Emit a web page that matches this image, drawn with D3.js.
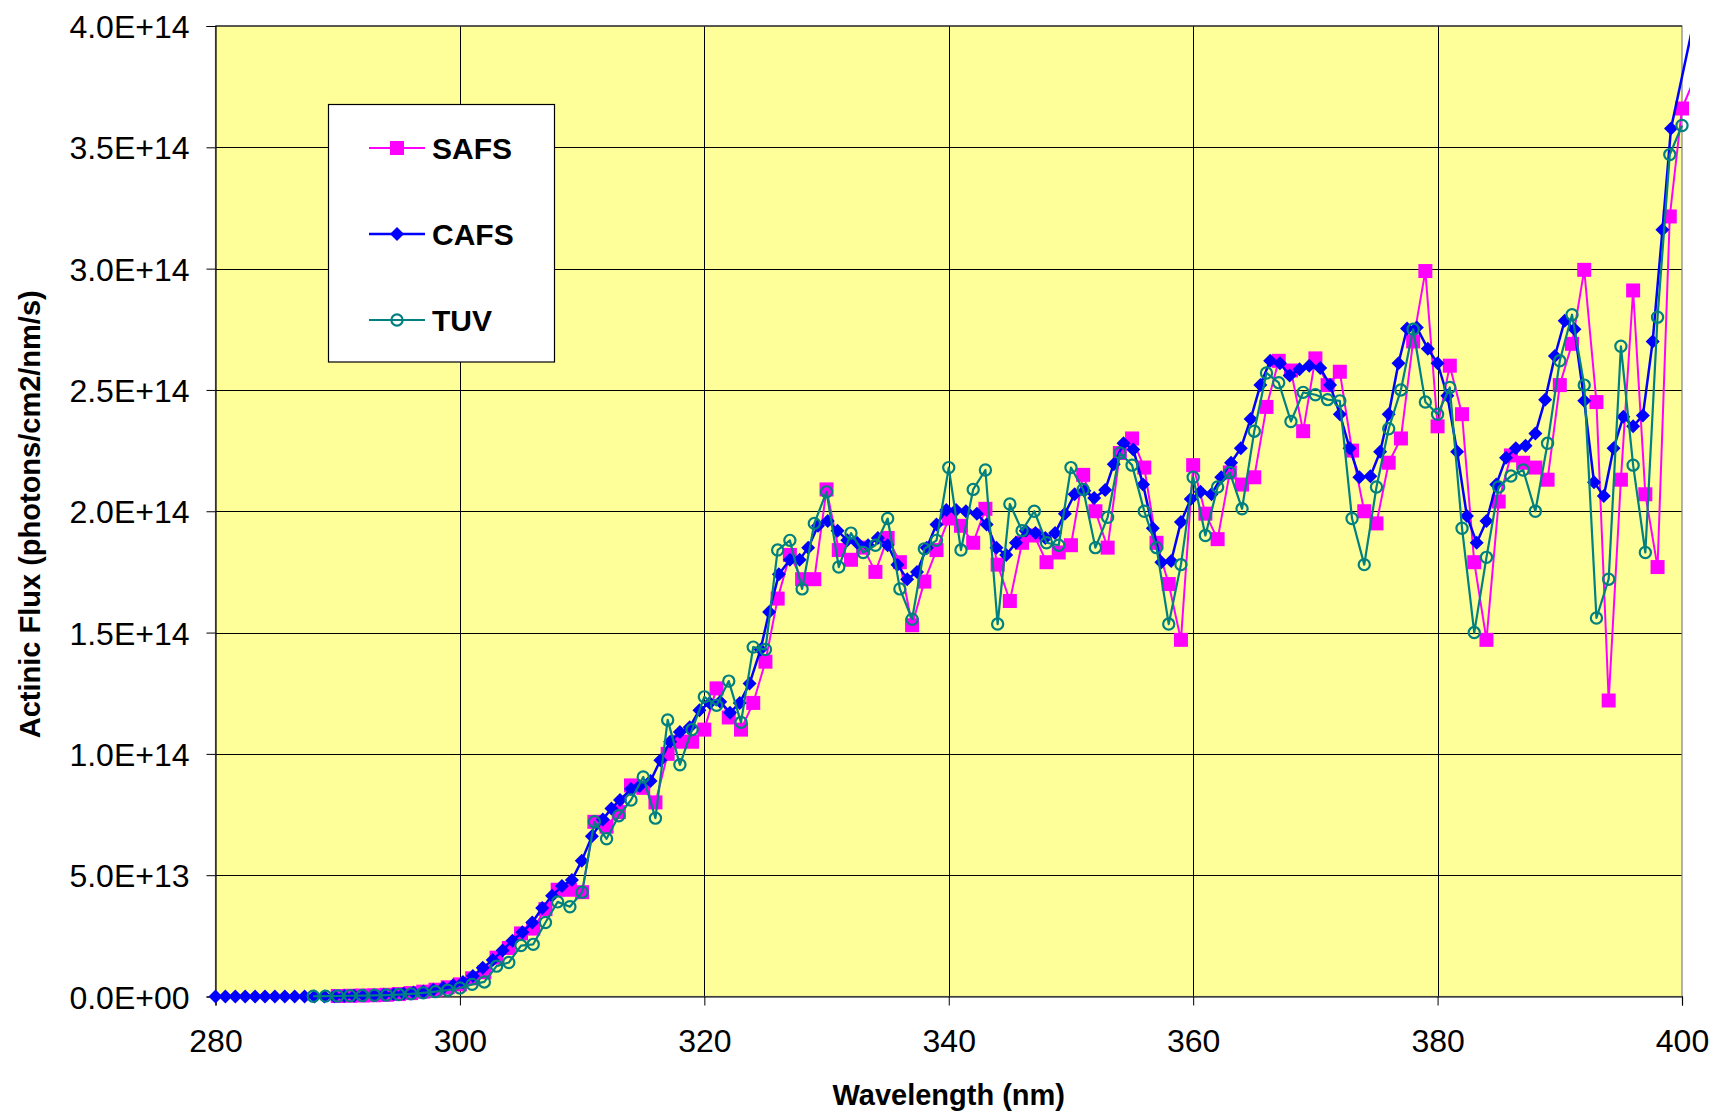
<!DOCTYPE html>
<html>
<head>
<meta charset="utf-8">
<script src="https://cdn.jsdelivr.net/npm/d3@7"></script>
<style>
  html, body { margin: 0; padding: 0; background: #ffffff; }
  svg { display: block; font-family: Arial, "Liberation Sans", sans-serif; }
</style>
</head>
<body>
<svg id="chart" width="1715" height="1120"></svg>
<script>
// ---------------- DATA (flux in units of 1E+14 photons/cm2/nm/s) ----------------
const seriesNames = ["SAFS", "CAFS", "TUV"];

// SAFS: 1 nm grid starting at 290 nm
const safsStart = 290;
const safsValues = [
  0.002, 0.003, 0.004, 0.005, 0.007, 0.010, 0.014, 0.020, 0.028, 0.038,
  0.050, 0.075, 0.100, 0.160, 0.200, 0.260, 0.280, 0.360, 0.440, 0.440, 0.430,
  0.72, 0.70, 0.76, 0.87, 0.86, 0.80, 1.00, 1.05, 1.05, 1.10,
  1.27, 1.15, 1.10, 1.21, 1.38, 1.64, 1.82, 1.72, 1.72, 2.09,
  1.84, 1.80, 1.85, 1.75, 1.89, 1.79, 1.53, 1.71, 1.84, 1.97,
  1.94, 1.87, 2.01, 1.78, 1.63, 1.87, 1.90, 1.79, 1.83, 1.86,
  2.15, 2.00, 1.85, 2.24, 2.30, 2.18, 1.87, 1.70, 1.47, 2.19,
  1.99, 1.885, 2.16, 2.11, 2.14, 2.43, 2.62, 2.58, 2.33, 2.63,
  2.52, 2.575, 2.25, 2.00, 1.95, 2.20, 2.30, 2.70, 2.99, 2.35,
  2.60, 2.40, 1.79, 1.47, 2.04, 2.23, 2.20, 2.18, 2.13, 2.52,
  2.69, 2.995, 2.45, 1.22, 2.13, 2.91, 2.07, 1.77, 3.215, 3.66, 3.78
];

// TUV: 1 nm grid starting at 288 nm
const tuvStart = 288;
const tuvValues = [
  0.001, 0.0015, 0.002, 0.003, 0.004, 0.005, 0.006, 0.008, 0.011, 0.015,
  0.020, 0.026, 0.035, 0.050, 0.060, 0.125, 0.140, 0.210, 0.215, 0.305, 0.390, 0.370, 0.430,
  0.72, 0.65, 0.745, 0.81, 0.905, 0.735, 1.14, 0.955, 1.10, 1.235,
  1.20, 1.30, 1.13, 1.44, 1.43, 1.84, 1.88, 1.68, 1.95, 2.08,
  1.77, 1.91, 1.83, 1.86, 1.97, 1.68, 1.555, 1.845, 1.88, 2.18,
  1.84, 2.09, 2.17, 1.535, 2.03, 1.92, 2.00, 1.87, 1.86, 2.18,
  2.09, 1.85, 1.975, 2.24, 2.19, 2.00, 1.85, 1.535, 1.78, 2.14,
  1.90, 2.10, 2.16, 2.01, 2.33, 2.57, 2.53, 2.37, 2.49, 2.48,
  2.46, 2.455, 1.97, 1.78, 2.10, 2.34, 2.50, 2.75, 2.45, 2.40,
  2.51, 1.93, 1.50, 1.81, 2.10, 2.145, 2.17, 2.00, 2.28, 2.62,
  2.81, 2.52, 1.56, 1.72, 2.68, 2.19, 1.83, 2.80, 3.47, 3.59
];

// CAFS: instrument wavelength grid (~0.8 nm spacing)
const cafsWavelengths = [
  280.00, 280.81, 281.62, 282.43, 283.24, 284.05, 284.86, 285.67, 286.48, 287.29,
  288.10, 288.91, 289.72, 290.53, 291.34, 292.15, 292.96, 293.77, 294.58, 295.39,
  296.20, 297.01, 297.82, 298.63, 299.44, 300.25, 301.06, 301.87, 302.68, 303.49,
  304.30, 305.11, 305.92, 306.73, 307.54, 308.35, 309.16, 309.97, 310.8, 311.7,
  312.4, 313.1, 314.0, 314.7, 315.6, 316.4, 317.2, 318.0, 318.8, 319.6,
  320.45, 321.3, 322.1, 322.9, 323.7, 324.6, 325.3, 326.1, 327.0, 327.8,
  328.5, 329.3, 330.1, 330.9, 331.7, 332.5, 333.4, 334.2, 335.0, 335.8,
  336.6, 337.4, 338.2, 339.0, 339.8, 340.6, 341.4, 342.3, 343.1, 343.9,
  344.7, 345.5, 346.3, 347.1, 347.9, 348.7, 349.5, 350.3, 351.1, 351.9,
  352.8, 353.5, 354.3, 355.1, 355.9, 356.7, 357.4, 358.2, 359.0, 359.8,
  360.6, 361.5, 362.3, 363.1, 363.9, 364.7, 365.5, 366.3, 367.1, 367.9,
  368.7, 369.5, 370.4, 371.2, 372.0, 372.8, 373.6, 374.5, 375.3, 376.0,
  376.8, 377.5, 378.3, 379.2, 380.0, 380.8, 381.6, 382.4, 383.2, 384.0,
  384.8, 385.6, 386.4, 387.2, 388.0, 388.8, 389.6, 390.4, 391.2, 392.0,
  392.8, 393.6, 394.4, 395.2, 396.0, 396.8, 397.6, 398.4, 399.1, 400.8
];
const cafsValues = [
  0, 0, 0, 0, 0, 0, 0, 0, 0, 0,
  0, 0, 0.001, 0.002, 0.003, 0.004, 0.005, 0.007, 0.009, 0.012,
  0.016, 0.021, 0.028, 0.036, 0.046, 0.060, 0.085, 0.118, 0.150, 0.190,
  0.230, 0.265, 0.305, 0.365, 0.415, 0.455, 0.480, 0.560, 0.660, 0.730,
  0.775, 0.810, 0.855, 0.868, 0.888, 0.974, 1.050, 1.090, 1.110, 1.180,
  1.210, 1.215, 1.170, 1.210, 1.290, 1.430, 1.585, 1.740, 1.800, 1.800,
  1.850, 1.940, 1.960, 1.920, 1.880, 1.870, 1.860, 1.890, 1.860, 1.780,
  1.720, 1.750, 1.850, 1.945, 2.005, 2.005, 2.000, 1.990, 1.945, 1.850,
  1.820, 1.870, 1.920, 1.910, 1.890, 1.910, 1.990, 2.070, 2.085, 2.055,
  2.088, 2.194, 2.280, 2.255, 2.110, 1.930, 1.790, 1.795, 1.956, 2.050,
  2.080, 2.070, 2.140, 2.200, 2.260, 2.380, 2.520, 2.620, 2.610, 2.560,
  2.585, 2.600, 2.590, 2.520, 2.400, 2.260, 2.140, 2.144, 2.245, 2.400,
  2.610, 2.753, 2.757, 2.670, 2.610, 2.476, 2.245, 1.980, 1.870, 1.960,
  2.110, 2.220, 2.260, 2.270, 2.320, 2.460, 2.640, 2.785, 2.750, 2.455,
  2.120, 2.063, 2.260, 2.390, 2.350, 2.395, 2.700, 3.160, 3.578, 3.980
];

const xTickValues = [280, 300, 320, 340, 360, 380, 400];
const yTickValues = [0, 0.5, 1.0, 1.5, 2.0, 2.5, 3.0, 3.5, 4.0];
const yTickLabels = ["0.0E+00", "5.0E+13", "1.0E+14", "1.5E+14", "2.0E+14", "2.5E+14", "3.0E+14", "3.5E+14", "4.0E+14"];
const xTitle = "Wavelength (nm)";
const yTitle = "Actinic Flux (photons/cm2/nm/s)";

// ---------------- BUILD ----------------
const safs = safsValues.map((v, i) => ({ w: safsStart + i, v }));
const tuv = tuvValues.map((v, i) => ({ w: tuvStart + i, v }));
const cafs = cafsValues.map((v, i) => ({ w: cafsWavelengths[i], v }));

const svg = d3.select("#chart");
const L = 215.5, R = 1682, T = 26, B = 996.5;
const x = d3.scaleLinear().domain([280, 400]).range([L, R]);
const y = d3.scaleLinear().domain([0, 4]).range([B, T]);

// plot background
svg.append("rect").attr("x", L).attr("y", T).attr("width", R - L).attr("height", B - T)
  .attr("fill", "#FFFF99");

// gridlines
const grid = svg.append("g");
grid.selectAll("line.h").data(yTickValues.filter(d => d > 0 && d < 4)).join("line")
  .attr("x1", L).attr("x2", R).attr("y1", d => Math.round(y(d)) + 0.5).attr("y2", d => Math.round(y(d)) + 0.5)
  .attr("stroke", "#000").attr("stroke-width", 1);
grid.selectAll("line.v").data(xTickValues.filter(d => d > 280 && d < 400)).join("line")
  .attr("y1", T).attr("y2", B).attr("x1", d => Math.round(x(d)) + 0.5).attr("x2", d => Math.round(x(d)) + 0.5)
  .attr("stroke", "#000").attr("stroke-width", 1);

// plot border
svg.append("rect").attr("x", L).attr("y", T).attr("width", R - L).attr("height", B - T)
  .attr("fill", "none").attr("stroke", "#808080").attr("stroke-width", 1.2);
svg.append("line").attr("x1", L).attr("x2", R).attr("y1", T).attr("y2", T).attr("stroke", "#000").attr("stroke-width", 1);

// axes
const yAxis = d3.axisLeft(y).tickValues(yTickValues).tickSize(9).tickPadding(17)
  .tickFormat((d, i) => yTickLabels[i]);
const gy = svg.append("g").attr("transform", `translate(${L},0)`).call(yAxis);
gy.select(".domain").attr("stroke", "#000").attr("stroke-width", 1.2);
gy.selectAll(".tick line").attr("stroke", "#000");
gy.selectAll(".tick text").attr("font-size", 32).attr("fill", "#000")
  .attr("font-family", "Arial, 'Liberation Sans', sans-serif").attr("dy", "0.36em");

const xAxis = d3.axisBottom(x).tickValues(xTickValues).tickSize(9).tickPadding(24)
  .tickFormat(d3.format("d"));
const gx = svg.append("g").attr("transform", `translate(0,${B})`).call(xAxis);
gx.select(".domain").attr("stroke", "#000").attr("stroke-width", 1.2);
gx.selectAll(".tick line").attr("stroke", "#000");
gx.selectAll(".tick text").attr("font-size", 32).attr("fill", "#000")
  .attr("font-family", "Arial, 'Liberation Sans', sans-serif").attr("dy", "0.71em");

// axis titles
svg.append("text").attr("x", (L + R) / 2).attr("y", 1105).attr("text-anchor", "middle")
  .attr("font-size", 29).attr("font-weight", "bold").text(xTitle);
svg.append("text").attr("transform", `translate(40,${(T + B) / 2 + 3}) rotate(-90)`)
  .attr("text-anchor", "middle").attr("font-size", 29).attr("font-weight", "bold").text(yTitle);

// clip for lines (Excel lets lines run slightly past the plot area)
svg.append("clipPath").attr("id", "lineclip").append("rect")
  .attr("x", 190).attr("y", 0).attr("width", 1690 - 190).attr("height", 1010);

const line = d3.line().x(d => x(d.w)).y(d => y(d.v));

const styles = {
  SAFS: { color: "#FF00FF", width: 2, data: safs },
  CAFS: { color: "#0000FF", width: 2.5, data: cafs },
  TUV: { color: "#008080", width: 2.2, data: tuv }
};

function drawMarker(g, name, color) {
  if (name === "SAFS") {
    g.append("rect").attr("x", -7).attr("y", -7).attr("width", 14).attr("height", 14)
      .attr("fill", color);
  } else if (name === "CAFS") {
    g.append("path").attr("d", "M0,-7L7,0L0,7L-7,0Z").attr("fill", color);
  } else {
    g.append("circle").attr("r", 5.6).attr("fill", "none").attr("stroke", color).attr("stroke-width", 2.2);
  }
}

seriesNames.forEach(name => {
  const s = styles[name];
  const g = svg.append("g");
  g.append("path").datum(s.data).attr("d", line).attr("fill", "none")
    .attr("stroke", s.color).attr("stroke-width", s.width).attr("stroke-linejoin", "round")
    .attr("clip-path", "url(#lineclip)");
  const pts = s.data.filter(d => d.w <= 400.05);
  pts.forEach(d => {
    const mg = g.append("g").attr("transform", `translate(${x(d.w)},${y(d.v)})`);
    drawMarker(mg, name, s.color);
  });
});

// legend
const lg = svg.append("g");
lg.append("rect").attr("x", 328.5).attr("y", 104.5).attr("width", 226).attr("height", 257.5)
  .attr("fill", "#fff").attr("stroke", "#000").attr("stroke-width", 1.2);
const legendY = [148, 234, 320];
seriesNames.forEach((name, i) => {
  const s = styles[name];
  const yy = legendY[i];
  lg.append("line").attr("x1", 369).attr("x2", 425).attr("y1", yy).attr("y2", yy)
    .attr("stroke", s.color).attr("stroke-width", s.width);
  const mg = lg.append("g").attr("transform", `translate(397,${yy})`);
  drawMarker(mg, name, s.color);
  lg.append("text").attr("x", 432).attr("y", yy + 11).attr("font-size", 30)
    .attr("font-weight", "bold").text(name);
});
</script>
</body>
</html>
